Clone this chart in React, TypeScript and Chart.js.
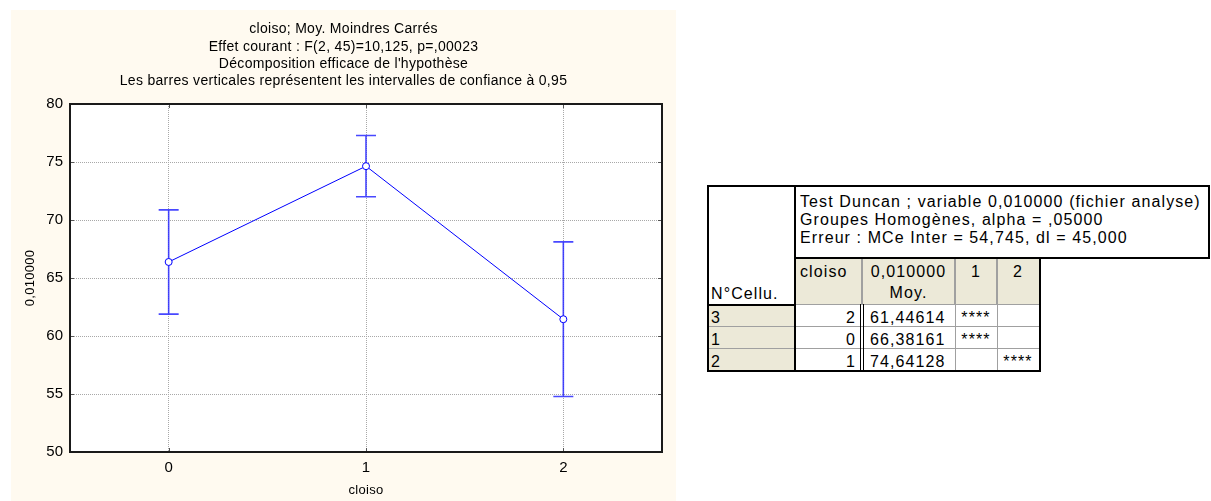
import React, { useEffect, useRef } from "react";
import { Chart, registerables } from "chart.js";

Chart.register(...registerables);

// ---- chart data ----
const categories = ["0", "1", "2"];
const means = [66.38161, 74.64128, 61.44614];
const ciLower = [61.89, 72.01, 54.78];
const ciUpper = [70.87, 77.28, 68.11];
const yMin = 50;
const yMax = 80;
const yStep = 5;
const titleLines = [
  "cloiso; Moy. Moindres Carrés",
  "Effet courant : F(2, 45)=10,125, p=,00023",
  "Décomposition efficace de l'hypothèse",
  "Les barres verticales représentent les intervalles de confiance à 0,95",
];
const xTitle = "cloiso";
const yTitle = "0,010000";

// ---- table data ----
const headerLines = [
  "Test Duncan ; variable 0,010000 (fichier analyse)",
  "Groupes Homogènes, alpha = ,05000",
  "Erreur : MCe Inter = 54,745, dl = 45,000",
];
const rowHeaderTitle = "N°Cellu.";
const colHeaders = ["cloiso", "0,010000", "1", "2"];
const colHeader2 = ["", "Moy.", "", ""];
const cellNos = ["3", "1", "2"];
const cloisoVals = ["2", "0", "1"];
const meanTexts = ["61,44614", "66,38161", "74,64128"];
const group1 = ["****", "****", ""];
const group2 = ["", "", "****"];

const FONT = '"Liberation Sans", Arial, Helvetica, sans-serif';

const decorPlugin = {
  id: "decor",
  beforeDraw(chart: any) {
    const { ctx, chartArea: a } = chart;
    ctx.save();
    ctx.fillStyle = "#fffaf0";
    ctx.fillRect(0, 0, chart.width, chart.height);
    ctx.fillStyle = "#ffffff";
    ctx.fillRect(a.left, a.top, a.right - a.left, a.bottom - a.top);
    ctx.restore();
  },
  beforeDatasetsDraw(chart: any) {
    const { ctx } = chart;
    const xs = chart.scales.x;
    const ys = chart.scales.y;
    ctx.save();
    ctx.strokeStyle = "rgba(40,40,255,0.85)";
    ctx.lineWidth = 1.6;
    for (let i = 0; i < means.length; i++) {
      const x = xs.getPixelForValue(i);
      const yl = ys.getPixelForValue(ciLower[i]);
      const yu = ys.getPixelForValue(ciUpper[i]);
      ctx.beginPath();
      ctx.moveTo(x, yl);
      ctx.lineTo(x, yu);
      ctx.moveTo(x - 10, yl);
      ctx.lineTo(x + 10, yl);
      ctx.moveTo(x - 10, yu);
      ctx.lineTo(x + 10, yu);
      ctx.stroke();
    }
    ctx.restore();
  },
  afterDraw(chart: any) {
    const { ctx, chartArea: a } = chart;
    const xs = chart.scales.x;
    const ys = chart.scales.y;
    ctx.save();
    // inward ticks
    ctx.strokeStyle = "#555";
    ctx.lineWidth = 1;
    ctx.beginPath();
    ys.ticks.forEach((t: any) => {
      const y = Math.round(ys.getPixelForValue(t.value)) + 0.5;
      ctx.moveTo(a.left, y);
      ctx.lineTo(a.left + 4, y);
      ctx.moveTo(a.right - 4, y);
      ctx.lineTo(a.right, y);
    });
    xs.ticks.forEach((t: any, i: number) => {
      const x = Math.round(xs.getPixelForValue(i)) + 0.5;
      ctx.moveTo(x, a.bottom);
      ctx.lineTo(x, a.bottom - 4);
      ctx.moveTo(x, a.top);
      ctx.lineTo(x, a.top + 4);
    });
    ctx.stroke();
    // frame
    ctx.strokeStyle = "#1a1a1a";
    ctx.lineWidth = 2;
    ctx.strokeRect(a.left, a.top, a.right - a.left, a.bottom - a.top);
    // titles
    ctx.fillStyle = "#000";
    ctx.textAlign = "center";
    ctx.textBaseline = "middle";
    ctx.font = `14px ${FONT}`;
    try {
      (ctx as any).letterSpacing = "0.3px";
    } catch (e) {}
    titleLines.forEach((line, k) => {
      ctx.fillText(line, chart.width / 2, 19.5 + 17.3 * k);
    });
    ctx.font = `13px ${FONT}`;
    ctx.fillText(xTitle, (a.left + a.right) / 2, 480);
    ctx.translate(19, (a.top + a.bottom) / 2);
    ctx.rotate(-Math.PI / 2);
    ctx.fillText(yTitle, 0, 0);
    ctx.restore();
  },
};

function ChartBox() {
  const ref = useRef<HTMLCanvasElement | null>(null);
  useEffect(() => {
    if (!ref.current) return;
    const chart = new Chart(ref.current, {
      type: "line",
      data: {
        labels: categories,
        datasets: [
          {
            data: means,
            borderColor: "#0000ff",
            borderWidth: 1,
            pointRadius: 3.5,
            pointBackgroundColor: "#ffffff",
            pointBorderColor: "#0000ff",
            pointBorderWidth: 1,
            tension: 0,
          },
        ],
      },
      options: {
        animation: false,
        responsive: false,
        devicePixelRatio: 1,
        layout: { padding: { top: 94, right: 14, bottom: 0, left: 0 } },
        plugins: {
          legend: { display: false },
          title: { display: false },
          tooltip: { enabled: false },
        },
        scales: {
          x: {
            type: "category",
            offset: true,
            grid: { color: "#a8a8a8", lineWidth: 1, drawTicks: false, offset: false },
            border: { display: false, dash: [1, 1] },
            ticks: { padding: 7, color: "#000", font: { family: FONT, size: 15 } },
            afterFit: (s: any) => {
              s.height = 49;
            },
          },
          y: {
            type: "linear",
            min: yMin,
            max: yMax,
            grid: { color: "#a8a8a8", lineWidth: 1, drawTicks: false },
            border: { display: false, dash: [1, 1] },
            ticks: { stepSize: yStep, padding: 7, color: "#000", font: { family: FONT, size: 15 } },
            afterFit: (s: any) => {
              s.width = 59;
            },
          },
        },
      },
      plugins: [decorPlugin],
    } as any);
    return () => chart.destroy();
  }, []);
  return (
    <canvas
      ref={ref}
      width={665}
      height={491}
      style={{ position: "absolute", left: 11, top: 10, width: 665, height: 491 }}
    />
  );
}

const COLS = [707, 794, 862, 955, 997, 1039];
const TOP = 185;
const HEAD_BOTTOM = 257;
const COLHEAD_BOTTOM = 304;
const ROW_H = 22;
const HEAD_RIGHT = 1210;
const BEIGE = "#ece9d8";
const GRAY = "#a0a0a0";

function Box(p: { l: number; t: number; w: number; h: number; c: string }) {
  return <div style={{ position: "absolute", left: p.l, top: p.t, width: p.w, height: p.h, background: p.c }} />;
}

function Txt(p: { l: number; t: number; w?: number; align?: any; children: any }) {
  return (
    <div
      style={{
        position: "absolute",
        left: p.l,
        top: p.t,
        width: p.w,
        textAlign: p.align || "left",
        fontFamily: FONT,
        fontSize: 16,
        letterSpacing: "1.1px",
        lineHeight: "18px",
        whiteSpace: "nowrap",
        color: "#000",
      }}
    >
      {p.children}
    </div>
  );
}

function DuncanTable() {
  const nRows = cellNos.length;
  const bottom = COLHEAD_BOTTOM + ROW_H * nRows;
  const els: any[] = [];
  // backgrounds
  els.push(<Box key="bg1" l={COLS[1]} t={HEAD_BOTTOM} w={COLS[5] - COLS[1]} h={COLHEAD_BOTTOM - HEAD_BOTTOM} c={BEIGE} />);
  els.push(<Box key="bg2" l={COLS[0]} t={COLHEAD_BOTTOM} w={COLS[1] - COLS[0]} h={bottom - COLHEAD_BOTTOM} c={BEIGE} />);
  // gray lines
  [COLS[2], COLS[3], COLS[4]].forEach((x, i) =>
    els.push(<Box key={"gv" + i} l={x - 1} t={HEAD_BOTTOM} w={2} h={COLHEAD_BOTTOM - HEAD_BOTTOM} c={GRAY} />)
  );
  [COLS[3], COLS[4]].forEach((x, i) =>
    els.push(<Box key={"gd" + i} l={x} t={COLHEAD_BOTTOM} w={1} h={bottom - COLHEAD_BOTTOM} c={GRAY} />)
  );
  els.push(<Box key="gh0" l={COLS[1]} t={COLHEAD_BOTTOM} w={COLS[5] - COLS[1]} h={1} c={GRAY} />);
  for (let r = 1; r < nRows; r++) {
    els.push(<Box key={"gr" + r} l={COLS[0]} t={COLHEAD_BOTTOM + ROW_H * r} w={COLS[5] - COLS[0]} h={1} c={GRAY} />);
  }
  // double line between cloiso and mean
  els.push(<Box key="dl1" l={COLS[2] - 2} t={COLHEAD_BOTTOM} w={1} h={bottom - COLHEAD_BOTTOM} c="#000" />);
  els.push(<Box key="dl2" l={COLS[2] + 1} t={COLHEAD_BOTTOM} w={1} h={bottom - COLHEAD_BOTTOM} c="#000" />);
  // black lines
  els.push(<Box key="b1" l={COLS[0]} t={TOP} w={HEAD_RIGHT - COLS[0]} h={2} c="#000" />);
  els.push(<Box key="b2" l={COLS[0]} t={TOP} w={2} h={bottom + 2 - TOP} c="#000" />);
  els.push(<Box key="b3" l={COLS[1]} t={HEAD_BOTTOM} w={HEAD_RIGHT - COLS[1]} h={2} c="#000" />);
  els.push(<Box key="b4" l={HEAD_RIGHT - 2} t={TOP} w={2} h={HEAD_BOTTOM + 2 - TOP} c="#000" />);
  els.push(<Box key="b5" l={COLS[1]} t={TOP} w={2} h={bottom + 2 - TOP} c="#000" />);
  els.push(<Box key="b6" l={COLS[0]} t={COLHEAD_BOTTOM} w={COLS[1] - COLS[0]} h={2} c="#000" />);
  els.push(<Box key="b7" l={COLS[5]} t={HEAD_BOTTOM} w={2} h={bottom + 2 - HEAD_BOTTOM} c="#000" />);
  els.push(<Box key="b8" l={COLS[0]} t={bottom} w={COLS[5] + 2 - COLS[0]} h={2} c="#000" />);
  // header texts
  els.push(
    <Txt key="h" l={COLS[1] + 6} t={TOP + 8}>
      {headerLines.map((s, i) => (
        <div key={i}>{s}</div>
      ))}
    </Txt>
  );
  els.push(
    <Txt key="nc" l={COLS[0] + 4} t={285}>
      {rowHeaderTitle}
    </Txt>
  );
  colHeaders.forEach((s, i) => {
    const l = COLS[i + 1];
    const w = COLS[i + 2] - l;
    els.push(
      <Txt key={"ch" + i} l={l} w={w} t={263} align={i === 0 ? "left" : "center"}>
        <div style={{ paddingLeft: i === 0 ? 6 : 0 }}>{s}</div>
        {colHeader2[i] ? <div style={{ marginTop: 3 }}>{colHeader2[i]}</div> : null}
      </Txt>
    );
  });
  for (let r = 0; r < nRows; r++) {
    const t = COLHEAD_BOTTOM + ROW_H * r + 5;
    els.push(
      <Txt key={"rn" + r} l={COLS[0] + 4} t={t}>
        {cellNos[r]}
      </Txt>
    );
    els.push(
      <Txt key={"rc" + r} l={COLS[1]} w={COLS[2] - COLS[1] - 6} t={t} align="right">
        {cloisoVals[r]}
      </Txt>
    );
    els.push(
      <Txt key={"rm" + r} l={COLS[2] + 8} t={t}>
        {meanTexts[r]}
      </Txt>
    );
    els.push(
      <Txt key={"g1" + r} l={COLS[3]} w={COLS[4] - COLS[3]} t={t} align="center">
        {group1[r]}
      </Txt>
    );
    els.push(
      <Txt key={"g2" + r} l={COLS[4]} w={COLS[5] - COLS[4]} t={t} align="center">
        {group2[r]}
      </Txt>
    );
  }
  return <>{els}</>;
}

export default function App() {
  return (
    <div
      style={{
        position: "absolute",
        left: 0,
        top: 0,
        width: 1211,
        height: 501,
        overflow: "hidden",
        background: "#ffffff",
      }}
    >
      <ChartBox />
      <DuncanTable />
    </div>
  );
}
